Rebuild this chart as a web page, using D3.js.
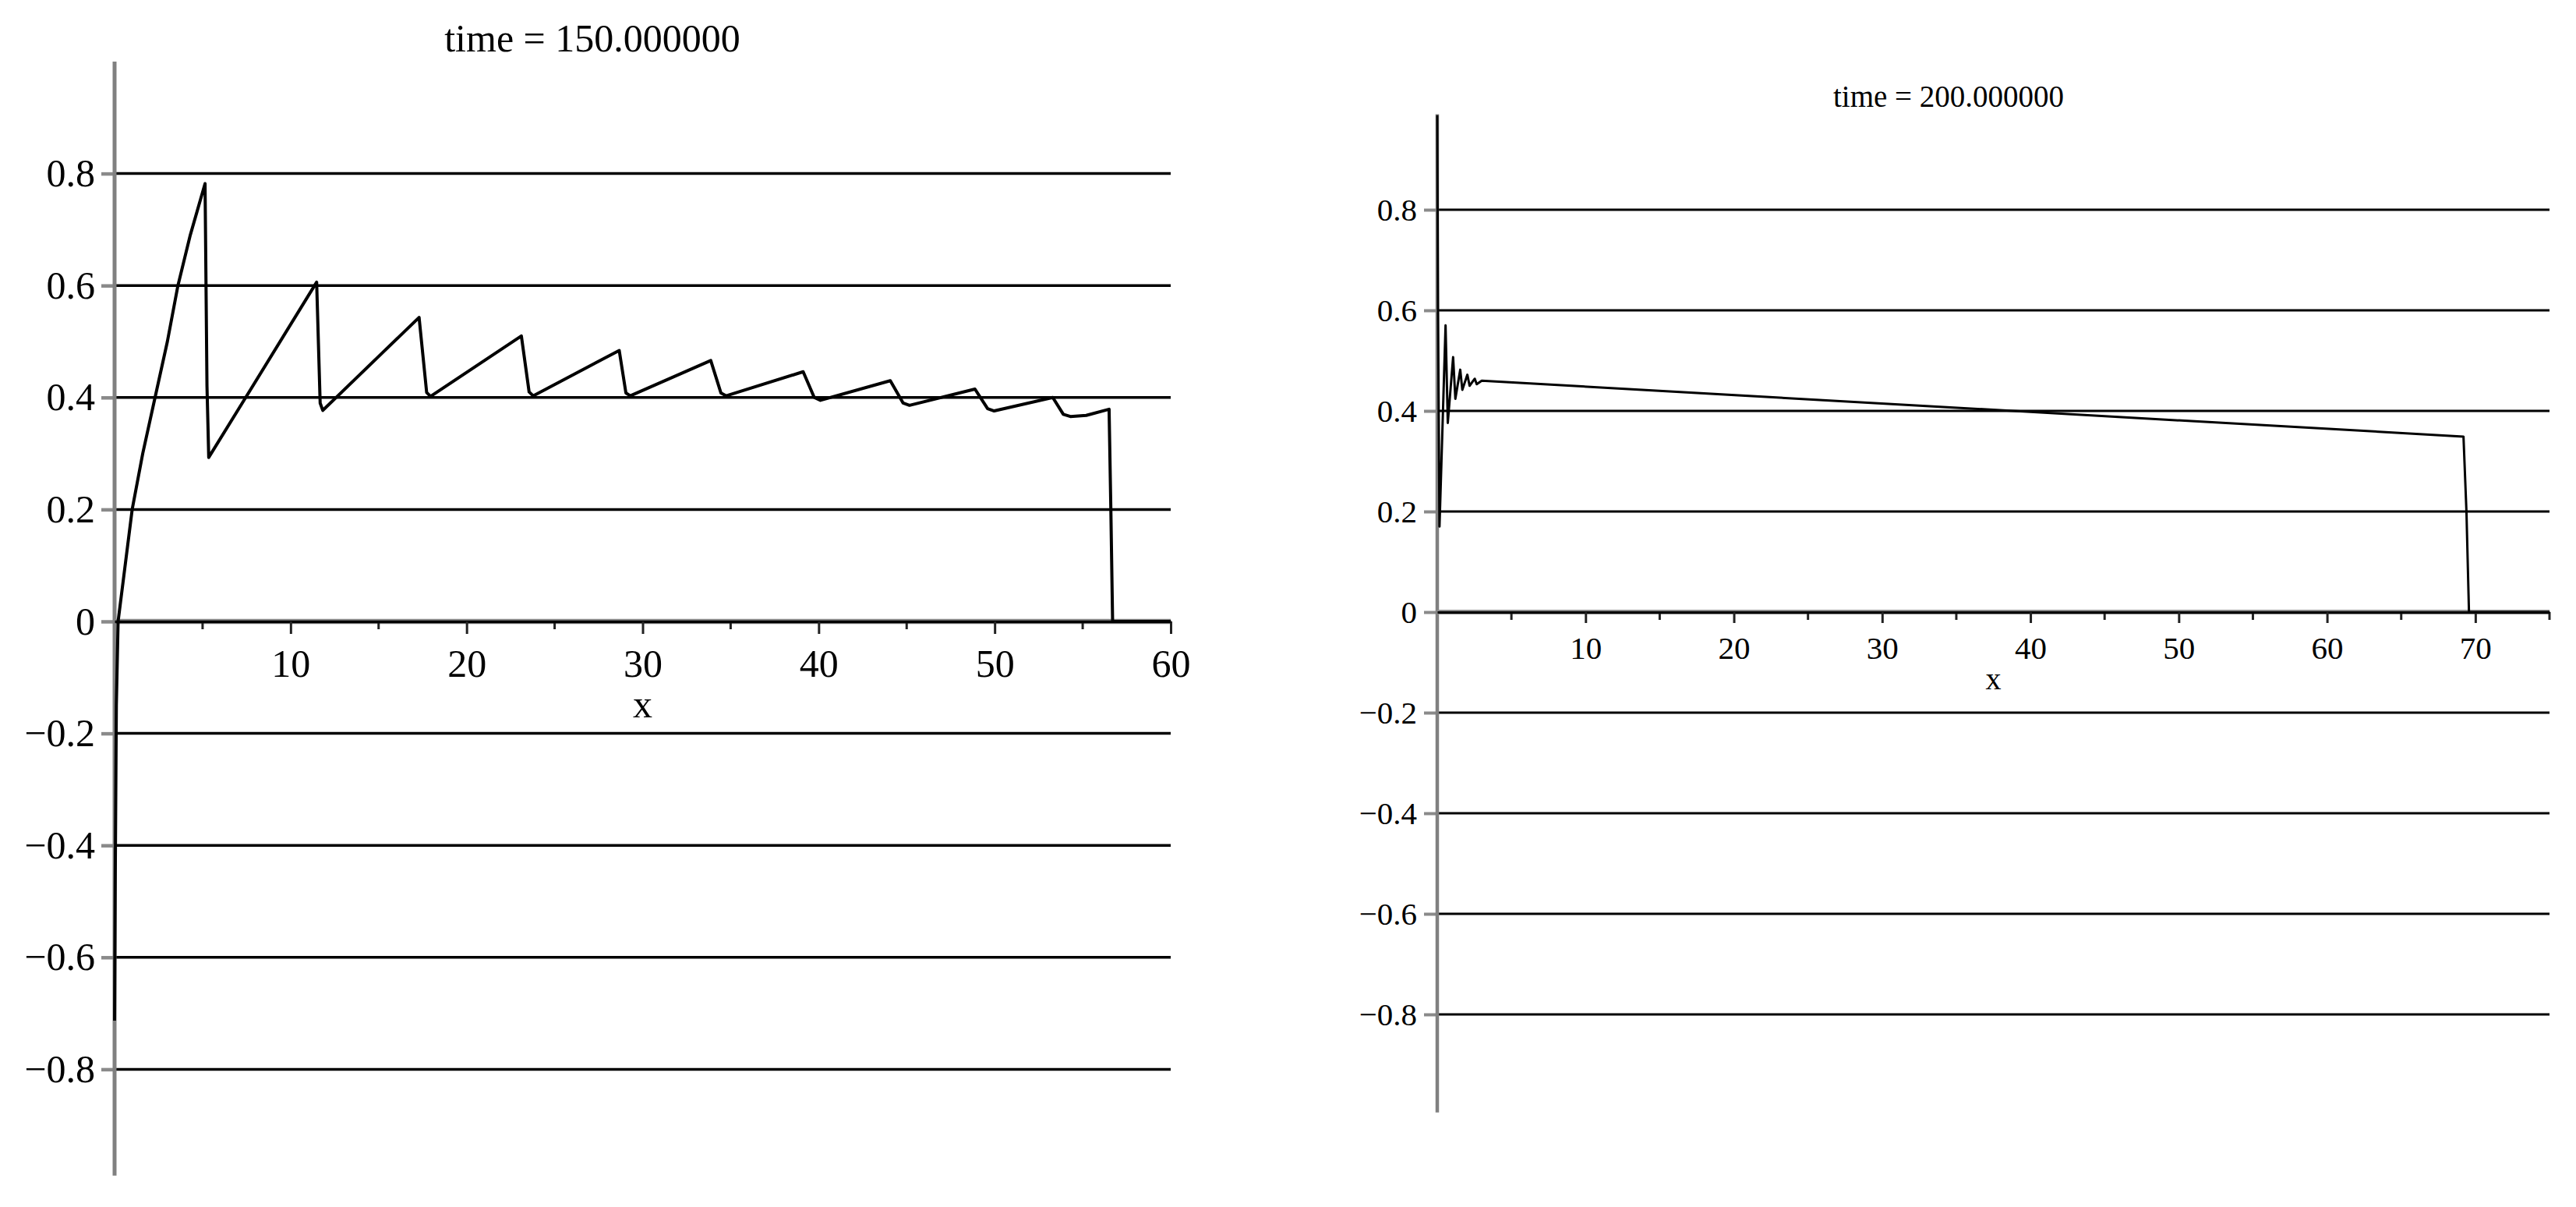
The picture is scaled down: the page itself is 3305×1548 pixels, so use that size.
<!DOCTYPE html>
<html>
<head>
<meta charset="utf-8">
<script src="https://cdn.jsdelivr.net/npm/d3@7"></script>
<style>
  body { margin: 0; background: #fff; }
  svg text { font-family: "Liberation Serif", "Times New Roman", serif; fill: #000; }
</style>
</head>
<body>
<svg id="chart" width="3305" height="1548"></svg>
<script>
var leftTitle = "time = 150.000000";
var leftX = [0, 0.04, 0.1, 0.2, 0.5, 1.0, 1.6, 2.3, 3.0, 3.6, 4.3, 5.14, 5.25, 5.35,
  7.45, 11.48, 11.68, 11.83, 17.3, 17.73, 17.95, 23.11, 23.55, 23.78, 28.67, 29.05, 29.3,
  33.87, 34.45, 34.75, 39.12, 39.75, 40.1, 44.07, 44.8, 45.16, 48.88, 49.6, 49.97,
  53.3, 53.9, 54.3, 55.2, 56.5, 56.6, 56.7, 60];
var leftU = [-0.713, -0.45, -0.15, 0, 0.075, 0.2, 0.3, 0.4, 0.5, 0.6, 0.69, 0.782, 0.42, 0.293,
  0.4, 0.606, 0.39, 0.377, 0.543, 0.409, 0.402, 0.51, 0.41, 0.403, 0.484, 0.408, 0.403,
  0.466, 0.408, 0.403, 0.446, 0.4, 0.395, 0.43, 0.39, 0.386, 0.415, 0.38, 0.376,
  0.4, 0.37, 0.366, 0.368, 0.379, 0.2, 0, 0];
var leftXTicks = [10, 20, 30, 40, 50, 60];
var leftXMinor = [5, 15, 25, 35, 45, 55];

var rightTitle = "time = 200.000000";
var rightX = [0, 0.05, 0.15, 0.56, 0.71, 1.07, 1.22, 1.55, 1.69, 2.03, 2.18, 2.53, 2.66, 3.0,
  69.2, 69.4, 69.57, 75];
var rightU = [0.988, 0.6, 0.17, 0.57, 0.376, 0.507, 0.424, 0.482, 0.442, 0.472, 0.45, 0.464, 0.453, 0.46,
  0.349, 0.2, 0, 0];
var rightXTicks = [10, 20, 30, 40, 50, 60, 70];
var rightXMinor = [5, 15, 25, 35, 45, 55, 65, 75];

var yTicks = [-0.8, -0.6, -0.4, -0.2, 0, 0.2, 0.4, 0.6, 0.8];
var xLabel = "x";

var svg = d3.select("#chart");
var fmt = function(v){ return v === 0 ? "0" : d3.format(".1f")(v); };

var drawPanel = function(p){
  var xs = d3.scaleLinear().domain(p.xDomain).range(p.xRange);
  var ys = d3.scaleLinear().domain([-1, 1]).range(p.yRange);
  var g = svg.append("g");

  // horizontal grid lines
  g.selectAll(".grid").data(yTicks.filter(function(d){ return d !== 0; }))
    .enter().append("line").classed("grid", true)
    .attr("x1", xs(p.xDomain[0])).attr("x2", xs(p.xDomain[1]))
    .attr("y1", function(d){ return ys(d); }).attr("y2", function(d){ return ys(d); })
    .attr("stroke", "#000").attr("stroke-width", p.grid);

  // y axis
  var yAxis = d3.axisLeft(ys).tickValues(yTicks).tickFormat(fmt)
    .tickSize(17).tickPadding(p.yPad).tickSizeOuter(0);
  var ya = g.append("g").attr("transform", "translate(" + xs(0) + ",0)").call(yAxis);
  ya.select(".domain").remove();
  ya.selectAll(".tick line").attr("stroke", "#8a8a8a").attr("stroke-width", p.grid + 1);
  ya.selectAll(".tick text").attr("font-size", p.font).attr("fill", "#000");
  g.append("line")
    .attr("x1", xs(0)).attr("x2", xs(0))
    .attr("y1", ys(p.yTop)).attr("y2", ys(p.yBottom))
    .attr("stroke", "#808080").attr("stroke-width", p.grid + 1.5);

  // x axis on u = 0
  var x0 = g.append("g").attr("transform", "translate(0," + ys(0) + ")");
  x0.append("line").attr("x1", xs(p.xDomain[0])).attr("x2", xs(p.xDomain[1]))
    .attr("stroke", "#8a8a8a").attr("stroke-width", p.grid + 3);
  x0.selectAll(".minor").data(p.minor).enter().append("line").classed("minor", true)
    .attr("x1", function(d){ return xs(d); }).attr("x2", function(d){ return xs(d); })
    .attr("y1", 0).attr("y2", 10).attr("stroke", "#222").attr("stroke-width", 3);
  var xAxis = d3.axisBottom(xs).tickValues(p.ticks).tickFormat(d3.format("d"))
    .tickSize(p.tick).tickPadding(p.xPad).tickSizeOuter(0);
  var xa = x0.append("g").call(xAxis);
  xa.select(".domain").attr("stroke", "#000").attr("stroke-width", p.grid);
  xa.selectAll(".tick line").attr("stroke", "#222").attr("stroke-width", 3);
  xa.selectAll(".tick text").attr("font-size", p.font).attr("fill", "#000");

  // curve
  var pts = p.xv.map(function(d, i){ return [d, p.uv[i]]; });
  g.append("path").datum(pts)
    .attr("d", d3.line().x(function(d){ return xs(d[0]); }).y(function(d){ return ys(d[1]); }))
    .attr("fill", "none").attr("stroke", "#000").attr("stroke-width", p.line)
    .attr("stroke-linejoin", "round");

  // texts
  g.append("text").attr("x", p.titleX).attr("y", p.titleY).attr("text-anchor", "middle")
    .attr("font-size", p.titleFont).text(p.title);
  g.append("text").attr("x", (p.xRange[0] + p.xRange[1]) / 2).attr("y", p.labelY)
    .attr("text-anchor", "middle").attr("font-size", p.labelFont).text(xLabel);
};

drawPanel({
  title: leftTitle, xv: leftX, uv: leftU, ticks: leftXTicks, minor: leftXMinor,
  xDomain: [0, 60], xRange: [147, 1502], yRange: [1515, 79], yTop: 1.0, yBottom: -0.99,
  font: 50, titleFont: 50, labelFont: 50, titleX: 760, titleY: 66, labelY: 920,
  tick: 16, xPad: 19, yPad: 8, grid: 3.5, line: 4
});
drawPanel({
  title: rightTitle, xv: rightX, uv: rightU, ticks: rightXTicks, minor: rightXMinor,
  xDomain: [0, 75], xRange: [1844, 3271], yRange: [1430, 140], yTop: 0.99, yBottom: -0.995,
  font: 41, titleFont: 39, labelFont: 40, titleX: 2500, titleY: 137, labelY: 884,
  tick: 14, xPad: 17, yPad: 9, grid: 3, line: 3
});
</script>
</body>
</html>
